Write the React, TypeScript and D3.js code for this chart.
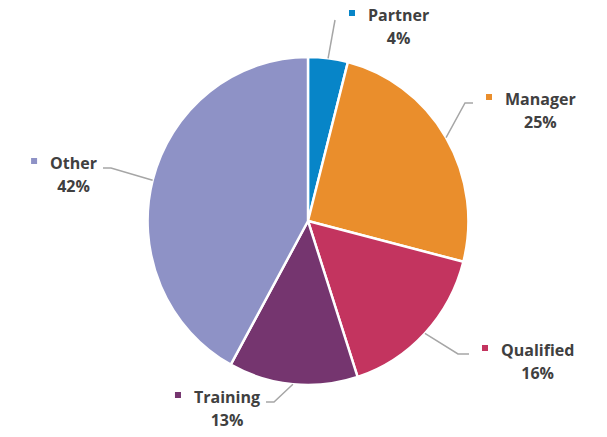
import React, { useEffect, useRef } from "react";
import * as d3 from "d3";

const categories = ["Partner", "Manager", "Qualified", "Training", "Other"];
const values = [4, 25, 16, 13, 42];
const percentLabels = ["4%", "25%", "16%", "13%", "42%"];
const colors = ["#0785C8", "#EA8E2C", "#C3345F", "#75356F", "#8E92C6"];

// label elbow positions relative to pie centre (layout, not data)
const labelLayout = [
  { ex: 27, ey: -201, side: "right", hook: 0 },
  { ex: 157, ey: -118, side: "right", hook: 8 },
  { ex: 150, ey: 133, side: "right", hook: 11 },
  { ex: -34, ey: 181, side: "left", hook: 8 },
  { ex: -197, ey: -53, side: "left", hook: 8 },
];

const W = 607;
const H = 437;
const CX = 308;
const CY = 221;
const R = 164;
const SX = 0.978;

export default function App() {
  const ref = useRef<SVGSVGElement>(null);

  useEffect(() => {
    const svg = d3.select(ref.current);
    svg.selectAll("*").remove();
    const data = categories.map((c, i) => ({ c, v: values[i], p: percentLabels[i], col: colors[i], lay: labelLayout[i] }));
    const pie = d3.pie<any>().value((d) => d.v).sort(null);
    const arcs = pie(data);
    const arc = d3.arc<any>().innerRadius(0).outerRadius(R);

    const g = svg.append("g").attr("transform", `translate(${CX},${CY}) scale(${SX},1)`);
    g.selectAll("path")
      .data(arcs)
      .join("path")
      .attr("d", arc as any)
      .attr("fill", (d: any) => d.data.col)
      .attr("stroke", "#ffffff")
      .attr("stroke-width", 2.5)
      .attr("stroke-linejoin", "round");

    const lg = svg.append("g").attr("transform", `translate(${CX},${CY})`);
    const font = "'Open Sans', sans-serif";
    const fs = 16;

    arcs.forEach((a: any) => {
      const d = a.data;
      const mid = (a.startAngle + a.endAngle) / 2;
      const sx = Math.sin(mid) * R * SX;
      const sy = -Math.cos(mid) * R;
      const { ex, ey, side, hook } = d.lay;
      const endX = side === "right" ? ex + hook : ex - hook;
      const pts: [number, number][] = [[sx, sy], [ex, ey], [endX, ey]];
      lg.append("path")
        .attr("d", d3.line()(pts) as string)
        .attr("fill", "none")
        .attr("stroke", "#A6A6A6")
        .attr("stroke-width", 1.5);

      const name = lg.append("text")
        .attr("font-family", font)
        .attr("font-weight", 700)
        .attr("font-size", fs)
        .attr("fill", "#404040")
        .text(d.c);
      const nw = (name.node() as SVGTextElement).getComputedTextLength();
      let nameX: number;
      let baseY: number;
      if (side === "right") {
        nameX = endX + (hook === 0 ? 33 : 32);
        baseY = ey + (hook === 0 ? 1 : 2);
      } else {
        nameX = endX - 6 - nw;
        baseY = ey + 1;
      }
      name.attr("x", nameX).attr("y", baseY);
      lg.append("rect")
        .attr("x", nameX - 19)
        .attr("y", baseY - 11)
        .attr("width", 6)
        .attr("height", 6)
        .attr("fill", d.col);
      lg.append("text")
        .attr("font-family", font)
        .attr("font-weight", 700)
        .attr("font-size", fs)
        .attr("fill", "#404040")
        .attr("text-anchor", "middle")
        .attr("x", nameX + nw / 2)
        .attr("y", baseY + 23)
        .text(d.p);
    });
  }, []);

  return (
    <svg
      ref={ref}
      width={W}
      height={H}
      style={{ position: "absolute", left: 0, top: 0, background: "#fff" }}
    />
  );
}
